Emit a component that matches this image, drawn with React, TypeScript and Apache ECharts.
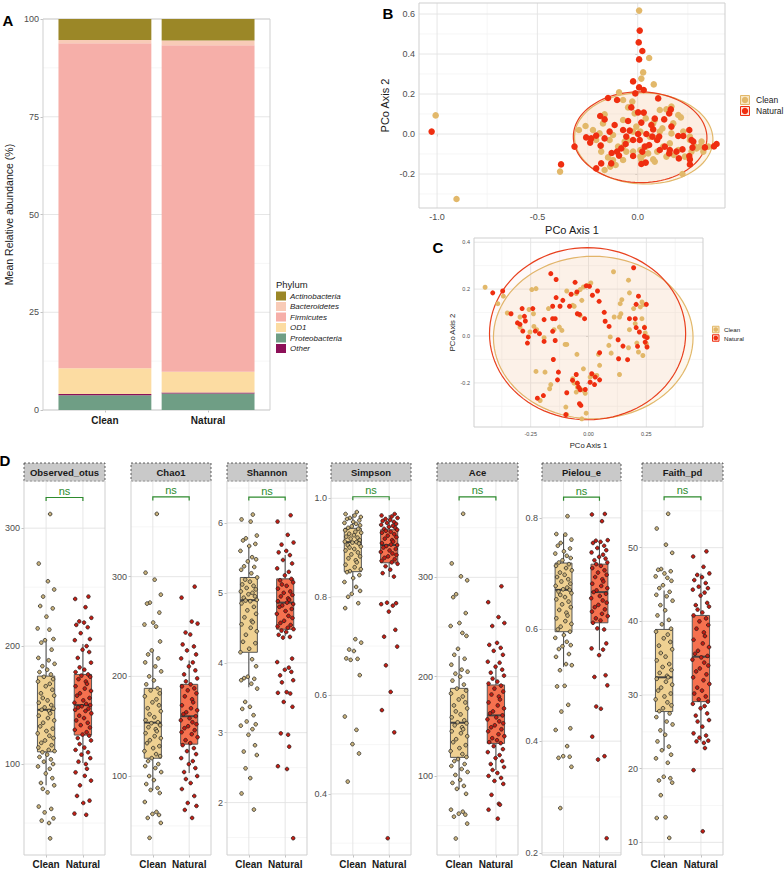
import React, { useEffect, useRef } from 'react';
import * as echarts from 'echarts';

const FONT = '"Liberation Sans", Arial, Helvetica, sans-serif';

// ---------------- Panel A: mean relative abundance ----------------
const GROUPS = ['Clean', 'Natural'];
const PHYLA = ['Actinobacteria', 'Bacteroidetes', 'Firmicutes', 'OD1', 'Proteobacteria', 'Other'];
const ACTINOBACTERIA = [5.4, 5.5];
const BACTEROIDETES = [0.8, 1.2];
const FIRMICUTES = [83.1, 83.5];
const OD1 = [6.6, 5.3];
const PROTEOBACTERIA = [3.8, 4.2];
const OTHER = [0.3, 0.3];
const A_TICKS = [0, 25, 50, 75, 100];
const A_MINOR = [12.5, 37.5, 62.5, 87.5];
const PHYLUM_COLORS: Record<string, string> = {
  Actinobacteria: '#9B8727',
  Bacteroidetes: '#F8CBB7',
  Firmicutes: '#F6AFA9',
  OD1: '#FCDCA2',
  Proteobacteria: '#6F9E85',
  Other: '#8C1058',
};
// stacking order bottom -> top
const A_STACK: [string, number[]][] = [
  ['Proteobacteria', PROTEOBACTERIA],
  ['Other', OTHER],
  ['OD1', OD1],
  ['Firmicutes', FIRMICUTES],
  ['Bacteroidetes', BACTEROIDETES],
  ['Actinobacteria', ACTINOBACTERIA],
];

// ---------------- Panel B: PCoA (unweighted) ----------------
const B_CLEAN = [
  [0.007, 0.617], [0.057, 0.38], [0.027, 0.308], [0.018, 0.277], [0.08, 0.248], [-1.007, 0.093], [-0.903, -0.325], [-0.387, -0.188],
  [-0.093, 0.208], [-0.073, 0.17], [-0.048, 0.133], [-0.027, 0.162], [0.143, 0.123], [0.168, 0.137], [0.215, 0.083], [-0.165, 0.098],
  [-0.293, 0.02], [-0.26, 0.04], [-0.19, 0.003], [-0.183, -0.058], [-0.123, -0.005], [-0.073, 0.07], [-0.007, 0.037], [0.077, 0.053],
  [0.11, 0.012], [0.123, 0.028], [0.177, 0.053], [0.26, -0.03], [0.285, -0.063], [0.31, -0.063], [0.327, -0.088], [0.268, -0.088],
  [0.223, -0.2], [0.18, -0.105], [0.143, -0.113], [0.085, -0.138], [0.077, -0.127], [0.027, -0.105], [0.013, -0.113], [-0.023, -0.088],
  [-0.073, -0.13], [-0.11, -0.155], [-0.137, -0.163], [-0.165, -0.18], [-0.148, -0.117], [-0.207, -0.03], [-0.223, 0.02], [-0.14, -0.03],
  [-0.098, -0.063], [-0.048, -0.03], [0.043, -0.063], [0.06, -0.013], [0.127, -0.063], [0.16, -0.047], [0.202, -0.08], [0.235, -0.113],
  [0.26, -0.013], [0.293, -0.072], [0.352, -0.063], [0.318, -0.038], [0.11, 0.12], [0.085, 0.07], [-0.015, 0.103], [-0.023, 0.012],
  [0.013, 0.012], [0.04, 0.078], [-0.173, 0.053], [-0.065, -0.038], [-0.057, -0.088], [0.013, -0.08], [0.052, -0.097], [0.097, -0.088],
  [0.168, 0.003], [0.227, 0.012], [0.202, 0.095], [-0.073, -0.063], [-0.182, -0.088], [-0.123, -0.13], [0.018, -0.13], [0.093, -0.022],
];
const B_NATURAL = [
  [0.01, 0.517], [0.005, 0.458], [0.023, 0.415], [0.007, 0.373], [-0.023, 0.263], [0.007, 0.233], [0.03, 0.22], [-0.012, 0.203],
  [-1.027, 0.012], [-0.382, -0.152], [-0.315, -0.063], [-0.148, 0.18], [-0.103, 0.17], [0.102, 0.178], [-0.032, 0.133], [0.002, 0.108],
  [0.03, 0.107], [0.085, 0.077], [0.165, 0.123], [0.157, 0.103], [0.132, 0.073], [-0.187, 0.09], [-0.165, 0.073], [-0.115, 0.045],
  [-0.048, 0.065], [0.018, 0.057], [-0.04, 0.017], [0.002, 0.0], [0.043, 0.0], [0.077, 0.023], [0.107, -0.013], [0.168, 0.037],
  [0.202, -0.01], [0.227, -0.01], [0.257, 0.02], [0.268, -0.03], [0.277, -0.038], [0.393, -0.05], [0.38, -0.062], [0.335, -0.067],
  [0.273, -0.068], [0.257, -0.11], [0.26, -0.127], [0.26, -0.152], [0.193, -0.088], [0.157, -0.097], [0.135, -0.063], [0.097, -0.03],
  [0.057, -0.055], [0.035, -0.063], [0.023, -0.088], [0.04, -0.143], [0.018, -0.15], [-0.023, -0.11], [-0.06, -0.05], [-0.082, -0.072],
  [-0.103, -0.088], [-0.093, -0.108], [-0.13, -0.095], [-0.165, -0.022], [-0.207, -0.008], [-0.232, -0.022], [-0.257, -0.017], [-0.237, -0.043],
  [-0.185, -0.058], [-0.207, -0.172], [-0.182, -0.147], [-0.132, -0.147], [-0.057, -0.013], [-0.023, -0.03], [0.073, -0.013], [0.11, -0.08],
  [0.16, -0.08], [0.223, -0.077], [0.205, -0.122], [-0.073, 0.02], [0.01, -0.03], [0.068, 0.045], [-0.14, 0.012],
];
// ellipse: centre x, centre y, semi-axis x, semi-axis y, rotation (rad)
const B_ELLIPSE_CLEAN = [0.03, -0.022, 0.345, 0.228, -0.03];
const B_ELLIPSE_NATURAL = [0.012, -0.016, 0.333, 0.227, -0.015];
const B_XTICKS = [-1, -0.5, 0];
const B_XMINOR = [-0.75, -0.25, 0.25];
const B_YTICKS = [-0.2, 0, 0.2, 0.4, 0.6];
const B_YMINOR = [-0.3, -0.1, 0.1, 0.3, 0.5];

// ---------------- Panel C: PCoA (weighted) ----------------
const C_CLEAN = [
  [-0.447, 0.208], [-0.392, 0.138], [-0.368, 0.17], [-0.351, 0.098], [-0.245, 0.198], [-0.227, 0.202], [-0.257, 0.113], [-0.238, 0.095],
  [-0.236, 0.041], [-0.253, 0.017], [-0.224, 0.027], [-0.192, -0.007], [-0.173, 0.117], [-0.149, 0.027], [-0.126, 0.038], [-0.115, 0.024],
  [-0.101, -0.036], [-0.094, 0.192], [-0.068, 0.131], [-0.062, 0.127], [-0.053, 0.181], [-0.036, 0.198], [-0.022, 0.209], [-0.029, 0.152],
  [0.0, 0.217], [0.01, 0.226], [-0.05, -0.078], [0.043, -0.078], [0.048, -0.125], [0.108, 0.274], [0.111, 0.081], [0.094, -0.004],
  [0.098, -0.073], [0.088, -0.04], [0.134, 0.081], [0.137, 0.138], [0.144, 0.155], [0.14, 0.095], [0.134, -0.164], [0.173, 0.238],
  [0.177, 0.184], [0.177, 0.027], [0.173, -0.05], [0.195, 0.117], [0.202, 0.053], [0.209, -0.03], [0.216, -0.068], [0.224, 0.124],
  [0.231, 0.074], [0.235, -0.083], [0.242, 0.038], [0.245, 0.013], [0.25, -0.033], [0.255, -0.004], [0.231, 0.145], [0.238, 0.134],
  [-0.188, -0.154], [-0.227, -0.151], [-0.163, -0.207], [-0.168, -0.225], [-0.209, -0.275], [-0.098, -0.303], [-0.094, -0.335], [-0.068, -0.182],
  [-0.062, -0.201], [-0.048, -0.218], [-0.053, -0.239], [-0.036, -0.225], [-0.022, -0.232], [-0.014, -0.244], [-0.029, -0.353], [-0.01, -0.329],
  [0.007, -0.175], [0.022, -0.168], [0.036, -0.168], [-0.022, -0.14], [-0.094, -0.036], [-0.296, 0.038], [-0.296, 0.081], [-0.036, 0.088],
];
const C_NATURAL = [
  [-0.414, 0.184], [-0.371, 0.192], [-0.335, 0.095], [-0.307, 0.056], [-0.296, 0.05], [-0.287, 0.117], [-0.277, 0.084], [-0.273, 0.064],
  [-0.284, 0.021], [-0.26, -0.004], [-0.264, -0.03], [-0.241, 0.117], [-0.23, 0.021], [-0.212, 0.01], [-0.192, 0.07], [-0.192, -0.023],
  [-0.163, 0.266], [-0.14, 0.241], [-0.155, 0.127], [-0.155, 0.074], [-0.144, 0.074], [-0.155, 0.02], [-0.144, -0.019], [-0.152, -0.1],
  [-0.14, 0.164], [-0.123, 0.127], [-0.111, 0.152], [-0.082, 0.127], [-0.075, 0.178], [-0.058, 0.229], [-0.05, 0.188], [-0.048, 0.095],
  [-0.039, 0.092], [-0.017, 0.074], [-0.01, 0.214], [0.004, 0.212], [0.017, 0.174], [0.039, 0.192], [0.046, 0.148], [0.068, 0.101],
  [0.072, 0.063], [0.048, -0.071], [-0.13, -0.154], [-0.134, -0.187], [-0.221, -0.265], [-0.195, -0.254], [-0.094, -0.242], [-0.069, -0.189],
  [-0.053, -0.164], [-0.048, -0.201], [-0.043, -0.218], [-0.036, -0.229], [-0.014, -0.228], [-0.039, -0.289], [-0.033, -0.296], [-0.098, -0.335],
  [0.007, -0.197], [0.014, -0.161], [0.029, -0.175], [0.048, -0.187], [0.026, -0.207], [0.089, 0.041], [0.128, -0.016], [0.13, -0.097],
  [0.149, -0.043], [0.169, -0.101], [0.177, 0.074], [0.195, 0.291], [0.202, 0.074], [0.206, 0.036], [0.206, 0.135], [0.212, -0.044],
  [0.216, 0.17], [0.22, 0.017], [0.242, 0.036], [0.242, -0.001], [0.245, -0.026], [0.25, 0.135], [0.253, -0.007], [0.253, -0.047],
];
const C_ELLIPSE_CLEAN = [0.0205, -0.0065, 0.4315, 0.3465, 0];
const C_ELLIPSE_NATURAL = [-0.004, 0.01, 0.424, 0.367, 0];
const C_XTICKS = [-0.25, 0, 0.25];
const C_XMINOR = [-0.375, -0.125, 0.125, 0.375];
const C_YTICKS = [-0.2, 0, 0.2, 0.4];
const C_YMINOR = [-0.3, -0.1, 0.1, 0.3];

// ---------------- Panel D: alpha diversity ----------------
const METRICS = ['Observed_otus', 'Chao1', 'Shannon', 'Simpson', 'Ace', 'Pielou_e', 'Faith_pd'];

const OBS_CLEAN = [312, 270, 255, 248, 242, 234, 232, 225, 215, 214, 206, 205, 203, 197, 190, 188, 185, 183, 180, 178, 176, 174, 172, 170, 168, 166, 163, 160, 158, 156, 154, 152, 150, 148, 147, 146, 145, 143, 141, 139, 137, 135, 132, 130, 128, 126, 124, 122, 120, 118, 116, 114, 112, 111, 110, 108, 106, 104, 102, 100, 98, 96, 92, 88, 84, 82, 79, 76, 64, 62, 59, 54, 52, 50, 37];
const OBS_NATURAL = [242, 240, 233, 224, 221, 220, 218, 216, 211, 206, 205, 200, 197, 195, 190, 186, 182, 180, 178, 176, 175, 174, 172, 170, 168, 166, 164, 162, 160, 158, 156, 154, 152, 151, 150, 149, 148, 147, 146, 145, 143, 141, 139, 137, 135, 133, 131, 129, 127, 125, 124, 122, 120, 117, 114, 112, 110, 108, 105, 102, 100, 96, 93, 90, 86, 82, 73, 69, 67, 58, 57];
const CHAO1_CLEAN = [363, 304, 297, 282, 274, 273, 264, 254, 252, 250, 235, 226, 222, 218, 214, 210, 205, 200, 196, 192, 188, 186, 183, 180, 177, 174, 171, 168, 165, 162, 159, 156, 154, 153, 151, 149, 147, 145, 143, 140, 138, 136, 133, 130, 128, 125, 122, 120, 118, 115, 112, 110, 108, 104, 100, 96, 92, 88, 86, 83, 74, 64, 62, 61, 58, 53, 38];
const CHAO1_NATURAL = [290, 279, 255, 253, 244, 242, 232, 230, 226, 222, 218, 214, 210, 206, 202, 198, 195, 192, 190, 188, 186, 183, 180, 177, 174, 171, 168, 166, 164, 162, 160, 158, 156, 154, 152, 150, 148, 146, 144, 142, 139, 136, 133, 131, 128, 125, 122, 118, 115, 112, 108, 104, 100, 97, 93, 87, 80, 73, 70, 66, 58];
const SHANNON_CLEAN = [6.12, 6.05, 6.02, 5.82, 5.78, 5.75, 5.7, 5.67, 5.6, 5.51, 5.48, 5.45, 5.38, 5.37, 5.33, 5.28, 5.22, 5.19, 5.16, 5.12, 5.1, 5.07, 5.05, 5.02, 5.0, 4.98, 4.95, 4.93, 4.9, 4.89, 4.88, 4.85, 4.8, 4.75, 4.7, 4.65, 4.6, 4.58, 4.55, 4.5, 4.45, 4.4, 4.3, 4.28, 4.2, 4.15, 4.05, 3.95, 3.8, 3.78, 3.77, 3.75, 3.7, 3.63, 3.44, 3.37, 3.34, 3.25, 3.16, 3.12, 3.1, 3.05, 2.97, 2.82, 2.73, 2.68, 2.49, 2.35, 2.13, 1.9];
const SHANNON_NATURAL = [6.11, 6.02, 5.83, 5.72, 5.69, 5.6, 5.58, 5.54, 5.47, 5.42, 5.35, 5.3, 5.25, 5.2, 5.18, 5.15, 5.12, 5.1, 5.06, 5.02, 5.0, 4.97, 4.95, 4.92, 4.9, 4.88, 4.86, 4.84, 4.82, 4.8, 4.77, 4.74, 4.7, 4.67, 4.64, 4.6, 4.57, 4.54, 4.52, 4.5, 4.48, 4.46, 4.44, 4.4, 4.37, 4.36, 4.06, 4.01, 3.93, 3.9, 3.87, 3.82, 3.75, 3.72, 3.58, 3.57, 3.56, 3.44, 3.37, 2.99, 2.97, 2.8, 2.52, 2.48, 1.49];
const SIMPSON_CLEAN = [0.972, 0.968, 0.965, 0.962, 0.96, 0.958, 0.955, 0.952, 0.95, 0.948, 0.945, 0.943, 0.94, 0.938, 0.935, 0.932, 0.93, 0.928, 0.925, 0.922, 0.92, 0.918, 0.915, 0.912, 0.911, 0.91, 0.908, 0.905, 0.902, 0.9, 0.897, 0.894, 0.89, 0.886, 0.882, 0.878, 0.874, 0.87, 0.865, 0.86, 0.856, 0.852, 0.85, 0.844, 0.838, 0.83, 0.82, 0.812, 0.806, 0.8, 0.787, 0.777, 0.714, 0.707, 0.693, 0.69, 0.675, 0.674, 0.672, 0.641, 0.557, 0.53, 0.501, 0.482, 0.425];
const SIMPSON_NATURAL = [0.968, 0.965, 0.963, 0.96, 0.958, 0.956, 0.954, 0.952, 0.95, 0.948, 0.946, 0.944, 0.942, 0.94, 0.938, 0.936, 0.934, 0.932, 0.93, 0.927, 0.924, 0.921, 0.918, 0.915, 0.912, 0.909, 0.906, 0.905, 0.903, 0.9, 0.897, 0.894, 0.891, 0.888, 0.885, 0.882, 0.879, 0.876, 0.873, 0.87, 0.867, 0.862, 0.855, 0.848, 0.841, 0.788, 0.787, 0.785, 0.782, 0.77, 0.733, 0.719, 0.699, 0.661, 0.607, 0.57, 0.525, 0.31];
const ACE_CLEAN = [364, 314, 301, 297, 283, 280, 264, 254, 251, 244, 241, 228, 222, 218, 212, 207, 205, 203, 200, 196, 192, 188, 186, 183, 180, 177, 174, 171, 168, 165, 162, 159, 156, 154, 153, 151, 149, 147, 145, 143, 140, 137, 134, 131, 128, 125, 122, 119, 117, 115, 112, 110, 107, 104, 101, 96, 93, 90, 87, 82, 66, 64, 62, 61, 59, 52, 37];
const ACE_NATURAL = [291, 275, 260, 254, 251, 234, 232, 229, 226, 222, 215, 214, 210, 207, 204, 201, 198, 195, 193, 191, 188, 185, 182, 180, 177, 174, 171, 168, 165, 163, 161, 159, 157, 155, 153, 151, 149, 147, 145, 142, 140, 138, 136, 134, 133, 130, 127, 124, 121, 118, 115, 112, 109, 106, 103, 100, 98, 95, 92, 81, 72, 71, 66, 57];
const PIELOU_CLEAN = [0.803, 0.771, 0.77, 0.761, 0.755, 0.75, 0.745, 0.74, 0.736, 0.732, 0.728, 0.724, 0.72, 0.717, 0.714, 0.71, 0.706, 0.702, 0.698, 0.694, 0.69, 0.686, 0.682, 0.678, 0.675, 0.672, 0.671, 0.668, 0.665, 0.662, 0.658, 0.654, 0.65, 0.645, 0.64, 0.635, 0.63, 0.625, 0.62, 0.615, 0.61, 0.605, 0.6, 0.596, 0.59, 0.585, 0.578, 0.572, 0.57, 0.565, 0.556, 0.551, 0.538, 0.536, 0.527, 0.499, 0.498, 0.465, 0.453, 0.423, 0.42, 0.391, 0.373, 0.372, 0.37, 0.354, 0.28];
const PIELOU_NATURAL = [0.807, 0.806, 0.794, 0.76, 0.759, 0.757, 0.755, 0.75, 0.746, 0.742, 0.738, 0.734, 0.73, 0.727, 0.724, 0.72, 0.717, 0.714, 0.71, 0.706, 0.702, 0.698, 0.694, 0.69, 0.686, 0.682, 0.678, 0.674, 0.67, 0.667, 0.664, 0.66, 0.656, 0.652, 0.648, 0.644, 0.64, 0.636, 0.632, 0.628, 0.624, 0.62, 0.616, 0.612, 0.6, 0.602, 0.575, 0.566, 0.564, 0.554, 0.518, 0.515, 0.5, 0.462, 0.458, 0.408, 0.373, 0.367, 0.226];
const FAITH_CLEAN = [54.6, 52.6, 50.4, 49.3, 47.1, 47.0, 46.8, 46.5, 46.1, 45.9, 45.5, 44.9, 44.5, 44.0, 43.6, 43.4, 42.8, 42.2, 41.5, 40.8, 40.2, 39.6, 39.0, 38.6, 38.2, 37.7, 37.2, 36.7, 36.2, 35.7, 35.2, 34.7, 34.2, 33.8, 33.4, 33.0, 32.6, 32.4, 32.2, 31.8, 31.4, 31.0, 30.6, 30.2, 29.8, 29.4, 29.0, 28.6, 28.2, 27.8, 27.5, 27.0, 26.4, 26.0, 25.2, 24.6, 23.7, 23.0, 22.5, 21.9, 21.4, 20.8, 18.9, 18.7, 18.4, 18.1, 16.4, 13.4, 13.3, 10.6];
const FAITH_NATURAL = [49.5, 48.8, 47.4, 46.5, 46.3, 46.0, 45.6, 45.2, 44.7, 44.5, 44.3, 43.9, 43.5, 42.5, 42.2, 42.0, 41.6, 41.2, 40.8, 40.4, 40.0, 39.5, 39.0, 38.5, 38.0, 37.5, 37.0, 36.5, 36.0, 35.6, 35.3, 35.1, 34.8, 34.4, 34.0, 33.6, 33.2, 32.8, 32.4, 32.0, 31.5, 31.0, 30.6, 30.2, 29.8, 29.4, 29.1, 28.8, 28.5, 28.2, 27.5, 27.2, 26.6, 26.4, 25.7, 24.8, 24.5, 24.2, 23.8, 23.7, 23.5, 22.8, 19.8, 11.5];

// box statistics: [lower whisker, Q1, median, Q3, upper whisker] for Clean, Natural
const OBS_BOX = [[82, 110.4, 146, 174.6, 205], [101, 124.6, 150, 176, 201.7]];
const CHAO1_BOX = [[86, 117.9, 153.6, 188, 227], [103, 132, 160, 192, 216]];
const SHANNON_BOX = [[3.65, 4.15, 4.895, 5.22, 5.67], [4.38, 4.48, 4.86, 5.2, 5.54]];
const SIMPSON_BOX = [[0.81, 0.851, 0.911, 0.939, 0.968], [0.84, 0.869, 0.905, 0.936, 0.966]];
const ACE_BOX = [[86.6, 118.7, 153.6, 188.2, 220.7], [106, 132.8, 161, 191.6, 210]];
const PIELOU_BOX = [[0.533, 0.596, 0.671, 0.719, 0.771], [0.563, 0.612, 0.667, 0.717, 0.757]];
const FAITH_BOX = [[22.45, 27.75, 32.4, 38.9, 44.2], [23.7, 29.1, 35.2, 40.8, 46.5]];

// y tick labels per metric
const OBS_TICKS = [100, 200, 300];
const CHAO1_TICKS = [100, 200, 300];
const SHANNON_TICKS = [2, 3, 4, 5, 6];
const SIMPSON_TICKS = [0.4, 0.6, 0.8, 1.0];
const ACE_TICKS = [100, 200, 300];
const PIELOU_TICKS = [0.2, 0.4, 0.6, 0.8];
const FAITH_TICKS = [10, 20, 30, 40, 50];
const OBS_MINOR = [50, 150, 250];
const CHAO1_MINOR = [50, 150, 250, 350];
const SHANNON_MINOR = [1.5, 2.5, 3.5, 4.5, 5.5, 6.5];
const SIMPSON_MINOR = [0.3, 0.5, 0.7, 0.9];
const ACE_MINOR = [50, 150, 250, 350];
const PIELOU_MINOR = [0.3, 0.5, 0.7];
const FAITH_MINOR = [15, 25, 35, 45, 55];
// "ns" bracket height per metric (in data units)
const NS_LEVEL = [326, 380, 6.37, 1.003, 381, 0.837, 56.9];

// horizontal jitter offsets (category units)
const JITTER = [0.11, -0.2, 0.05, 0.22, -0.08, -0.16, 0.18, 0.01, -0.23, 0.09, 0.2, -0.03, -0.13, 0.15, -0.21, 0.07, 0.23, -0.1, 0.03, -0.18, 0.13, -0.06, 0.19, -0.22, 0.1, -0.01, 0.17, -0.14, 0.22, -0.09, 0.04, -0.2, 0.14, -0.04, 0.2, -0.12, 0.08];

// ---------------- layout (pixels) ----------------
const D_LEFT = [24, 131, 227, 331, 437, 542, 642];
const D_WIDTH = [81, 80, 80, 80, 81, 79, 81];
const D_TOP = 481;
const D_HEIGHT = 374;
const D_YRANGE = [[22.9, 340], [20.8, 396], [1.25, 6.6], [0.276, 1.035], [20.4, 397], [0.196, 0.866], [8.28, 59.05]];

const CLEAN_COLOR = '#E2B86A';
const NATURAL_COLOR = '#EF2E10';

function frameSeries(gi: number, xr: number[], yr: number[], xMaj: number[], xMin: number[], yMaj: number[], yMin: number[], z = 1) {
  return {
    type: 'custom',
    xAxisIndex: gi,
    yAxisIndex: gi,
    silent: true,
    z,
    clip: false,
    data: [[xr[0], yr[0]]],
    renderItem: (_p: any, api: any) => {
      const ch: any[] = [];
      const add = (a: number[], b: number[], minor: boolean) => {
        const p = api.coord(a);
        const q = api.coord(b);
        ch.push({
          type: 'line',
          shape: { x1: p[0], y1: p[1], x2: q[0], y2: q[1] },
          style: { stroke: minor ? '#f2f2f2' : '#e3e3e3', lineWidth: minor ? 0.7 : 0.9 },
        });
      };
      yMin.forEach((v) => add([xr[0], v], [xr[1], v], true));
      xMin.forEach((v) => add([v, yr[0]], [v, yr[1]], true));
      yMaj.forEach((v) => add([xr[0], v], [xr[1], v], false));
      xMaj.forEach((v) => add([v, yr[0]], [v, yr[1]], false));
      const a = api.coord([xr[0], yr[1]]);
      const b = api.coord([xr[1], yr[0]]);
      ch.push({
        type: 'rect',
        shape: { x: a[0], y: a[1], width: b[0] - a[0], height: b[1] - a[1] },
        style: { fill: 'none', stroke: '#cfcfcf', lineWidth: 1 },
      });
      return { type: 'group', children: ch };
    },
  };
}

function stackedBarSeries(gi: number) {
  // one item per (phylum, group): [x, bottom, top, phylumIndex]
  const items: number[][] = [];
  GROUPS.forEach((_g, gIdx) => {
    let base = 0;
    A_STACK.forEach(([name, vals]) => {
      items.push([gIdx + 1, base, base + vals[gIdx], PHYLA.indexOf(name)]);
      base += vals[gIdx];
    });
  });
  return {
    type: 'custom',
    xAxisIndex: gi,
    yAxisIndex: gi,
    silent: true,
    z: 2,
    clip: false,
    data: items,
    renderItem: (_p: any, api: any) => {
      const x = api.value(0);
      const hw = 0.45;
      const tl = api.coord([x - hw, api.value(2)]);
      const br = api.coord([x + hw, api.value(1)]);
      return {
        type: 'rect',
        shape: { x: tl[0], y: tl[1], width: br[0] - tl[0], height: br[1] - tl[1] },
        style: { fill: PHYLUM_COLORS[PHYLA[api.value(3)]] },
      };
    },
  };
}

function ellipseSeries(gi: number, e: number[], fill: string, stroke: string) {
  return {
    type: 'custom',
    xAxisIndex: gi,
    yAxisIndex: gi,
    silent: true,
    z: 2,
    clip: false,
    data: [e],
    renderItem: (_p: any, api: any) => {
      const cx = api.value(0), cy = api.value(1), rx = api.value(2), ry = api.value(3), ang = api.value(4);
      const pts: number[][] = [];
      for (let i = 0; i < 96; i++) {
        const t = (i / 96) * Math.PI * 2;
        const x = rx * Math.cos(t);
        const y = ry * Math.sin(t);
        pts.push(api.coord([cx + x * Math.cos(ang) - y * Math.sin(ang), cy + x * Math.sin(ang) + y * Math.cos(ang)]));
      }
      return { type: 'polygon', shape: { points: pts }, style: { fill, stroke, lineWidth: 1.2 } };
    },
  };
}

function boxSeries(gi: number, stats: number[][]) {
  const fills = ['#EFD192', '#F6714F'];
  return {
    type: 'custom',
    xAxisIndex: gi,
    yAxisIndex: gi,
    silent: true,
    z: 2,
    clip: false,
    data: stats.map((s, i) => [i + 1, ...s]),
    renderItem: (p: any, api: any) => {
      const x = api.value(0);
      const lo = api.value(1), q1 = api.value(2), med = api.value(3), q3 = api.value(4), hi = api.value(5);
      const hw = 0.235;
      const tl = api.coord([x - hw, q3]);
      const br = api.coord([x + hw, q1]);
      const ml = api.coord([x - hw, med]);
      const mr = api.coord([x + hw, med]);
      const ph = api.coord([x, hi]);
      const p3 = api.coord([x, q3]);
      const p1 = api.coord([x, q1]);
      const pl = api.coord([x, lo]);
      const st = { stroke: '#555555', lineWidth: 1.1 };
      return {
        type: 'group',
        children: [
          { type: 'line', shape: { x1: ph[0], y1: ph[1], x2: p3[0], y2: p3[1] }, style: st },
          { type: 'line', shape: { x1: p1[0], y1: p1[1], x2: pl[0], y2: pl[1] }, style: st },
          { type: 'rect', shape: { x: tl[0], y: tl[1], width: br[0] - tl[0], height: br[1] - tl[1] }, style: { fill: fills[p.dataIndex], stroke: '#555555', lineWidth: 1 } },
          { type: 'line', shape: { x1: ml[0], y1: ml[1], x2: mr[0], y2: mr[1] }, style: { stroke: '#444444', lineWidth: 2 } },
        ],
      };
    },
  };
}

function bracketSeries(gi: number, level: number) {
  return {
    type: 'custom',
    xAxisIndex: gi,
    yAxisIndex: gi,
    silent: true,
    z: 4,
    clip: false,
    data: [[1, level, 2]],
    renderItem: (_p: any, api: any) => {
      const a = api.coord([api.value(0), api.value(1)]);
      const b = api.coord([api.value(2), api.value(1)]);
      return {
        type: 'group',
        children: [
          {
            type: 'polyline',
            shape: { points: [[a[0], a[1] + 3.5], [a[0], a[1]], [b[0], b[1]], [b[0], b[1] + 3.5]] },
            style: { stroke: '#2E8B2E', lineWidth: 1.2, fill: 'none' },
          },
          {
            type: 'text',
            x: (a[0] + b[0]) / 2,
            y: a[1] - 1,
            style: { text: 'ns', fill: '#2E8B2E', fontSize: 11, fontFamily: FONT, align: 'center', verticalAlign: 'bottom' },
          },
        ],
      };
    },
  };
}

function jittered(values: number[], x: number, offset: number) {
  return values.map((v, i) => [x + JITTER[(i + offset) % JITTER.length], v]);
}

function fmt(d: number) {
  return (v: number) => (Math.abs(v) < 1e-9 ? 0 : v).toFixed(d);
}

function valueAxis(gi: number, min: number, max: number, ticks: number[], formatter: any, fontSize: number, extra: any = {}) {
  return {
    type: 'value',
    gridIndex: gi,
    min,
    max,
    axisLine: { show: false },
    splitLine: { show: false },
    axisTick: { show: true, customValues: ticks, length: 2.5, lineStyle: { color: '#b3b3b3', width: 0.8 } },
    axisLabel: { customValues: ticks, formatter, color: '#4d4d4d', fontSize, fontFamily: FONT, margin: 4 },
    ...extra,
  };
}

function buildOption() {
  const grids: any[] = [];
  const xAxes: any[] = [];
  const yAxes: any[] = [];
  const series: any[] = [];

  // ---- A ----
  grids.push({ left: 43, top: 19, width: 227, height: 391 });
  xAxes.push(
    valueAxis(0, 0.4, 2.6, [1, 2], null, 10, {
      axisLabel: { customValues: [1, 2], formatter: (v: number) => GROUPS[Math.round(v) - 1] || '', color: '#1a1a1a', fontWeight: 'bold', fontSize: 10, fontFamily: FONT, margin: 5 },
    })
  );
  yAxes.push(
    valueAxis(0, 0, 100, A_TICKS, (v: number) => String(v), 9, {
      name: 'Mean Relative abundance (%)',
      nameLocation: 'middle',
      nameGap: 29,
      nameTextStyle: { fontSize: 10.5, color: '#1a1a1a', fontFamily: FONT },
    })
  );
  series.push(frameSeries(0, [0.4, 2.6], [0, 100], [], [], A_TICKS, A_MINOR));
  series.push(stackedBarSeries(0));

  // ---- B ----
  grids.push({ left: 419, top: 3, width: 306, height: 205 });
  xAxes.push(
    valueAxis(1, -1.09, 0.435, B_XTICKS, fmt(1), 9, {
      name: 'PCo Axis 1', nameLocation: 'middle', nameGap: 16,
      nameTextStyle: { fontSize: 11, color: '#1a1a1a', fontFamily: FONT },
    })
  );
  yAxes.push(
    valueAxis(1, -0.37, 0.655, B_YTICKS, fmt(1), 9, {
      name: 'PCo Axis 2', nameLocation: 'middle', nameGap: 29,
      nameTextStyle: { fontSize: 11, color: '#1a1a1a', fontFamily: FONT },
    })
  );
  series.push(frameSeries(1, [-1.09, 0.435], [-0.37, 0.655], B_XTICKS, B_XMINOR, B_YTICKS, B_YMINOR));
  series.push(ellipseSeries(1, B_ELLIPSE_CLEAN, 'rgba(243,210,165,0.26)', CLEAN_COLOR));
  series.push(ellipseSeries(1, B_ELLIPSE_NATURAL, 'rgba(240,80,50,0.03)', '#E8401E'));
  series.push({ type: 'scatter', xAxisIndex: 1, yAxisIndex: 1, silent: true, z: 3, clip: false, symbolSize: 6.5, itemStyle: { color: CLEAN_COLOR, opacity: 1 }, data: B_CLEAN });
  series.push({ type: 'scatter', xAxisIndex: 1, yAxisIndex: 1, silent: true, z: 3, clip: false, symbolSize: 6.5, itemStyle: { color: NATURAL_COLOR, opacity: 1 }, data: B_NATURAL });

  // ---- C ----
  grids.push({ left: 474, top: 238, width: 229, height: 189 });
  xAxes.push(
    valueAxis(2, -0.495, 0.495, C_XTICKS, fmt(2), 5.5, {
      name: 'PCo Axis 1', nameLocation: 'middle', nameGap: 14,
      nameTextStyle: { fontSize: 7.7, color: '#1a1a1a', fontFamily: FONT },
    })
  );
  yAxes.push(
    valueAxis(2, -0.388, 0.418, C_YTICKS, fmt(1), 5.5, {
      name: 'PCo Axis 2', nameLocation: 'middle', nameGap: 18,
      nameTextStyle: { fontSize: 7.7, color: '#1a1a1a', fontFamily: FONT },
    })
  );
  series.push(frameSeries(2, [-0.495, 0.495], [-0.388, 0.418], C_XTICKS, C_XMINOR, C_YTICKS, C_YMINOR));
  series.push(ellipseSeries(2, C_ELLIPSE_CLEAN, 'rgba(246,218,175,0.22)', CLEAN_COLOR));
  series.push(ellipseSeries(2, C_ELLIPSE_NATURAL, 'rgba(240,90,100,0.035)', '#E8401E'));
  series.push({ type: 'scatter', xAxisIndex: 2, yAxisIndex: 2, silent: true, z: 3, clip: false, symbolSize: 5, itemStyle: { color: CLEAN_COLOR, opacity: 1 }, data: C_CLEAN });
  series.push({ type: 'scatter', xAxisIndex: 2, yAxisIndex: 2, silent: true, z: 3, clip: false, symbolSize: 5, itemStyle: { color: NATURAL_COLOR, opacity: 1 }, data: C_NATURAL });

  // ---- D ----
  const dClean = [OBS_CLEAN, CHAO1_CLEAN, SHANNON_CLEAN, SIMPSON_CLEAN, ACE_CLEAN, PIELOU_CLEAN, FAITH_CLEAN];
  const dNatural = [OBS_NATURAL, CHAO1_NATURAL, SHANNON_NATURAL, SIMPSON_NATURAL, ACE_NATURAL, PIELOU_NATURAL, FAITH_NATURAL];
  const dBox = [OBS_BOX, CHAO1_BOX, SHANNON_BOX, SIMPSON_BOX, ACE_BOX, PIELOU_BOX, FAITH_BOX];
  const dTicks = [OBS_TICKS, CHAO1_TICKS, SHANNON_TICKS, SIMPSON_TICKS, ACE_TICKS, PIELOU_TICKS, FAITH_TICKS];
  const dMinor = [OBS_MINOR, CHAO1_MINOR, SHANNON_MINOR, SIMPSON_MINOR, ACE_MINOR, PIELOU_MINOR, FAITH_MINOR];
  const dFmt = [fmt(0), fmt(0), fmt(0), fmt(1), fmt(0), fmt(1), fmt(0)];

  METRICS.forEach((_m, i) => {
    const gi = 3 + i;
    const yr = D_YRANGE[i];
    grids.push({ left: D_LEFT[i], top: D_TOP, width: D_WIDTH[i], height: D_HEIGHT });
    xAxes.push(
      valueAxis(gi, 0.4, 2.6, [1, 2], null, 10, {
        axisLabel: { customValues: [1, 2], formatter: (v: number) => GROUPS[Math.round(v) - 1] || '', color: '#1a1a1a', fontWeight: 'bold', fontSize: 10, fontFamily: FONT, margin: 4 },
      })
    );
    yAxes.push(valueAxis(gi, yr[0], yr[1], dTicks[i], dFmt[i], 9));
    series.push(frameSeries(gi, [0.4, 2.6], yr, [1, 2], [], dTicks[i], dMinor[i]));
    series.push(boxSeries(gi, dBox[i]));
    series.push({
      type: 'scatter', xAxisIndex: gi, yAxisIndex: gi, silent: true, z: 3, clip: false, symbolSize: 3.7,
      itemStyle: { color: '#C9B27C', borderColor: '#1a1a1a', borderWidth: 0.7, opacity: 1 },
      data: jittered(dClean[i], 1, 0),
    });
    series.push({
      type: 'scatter', xAxisIndex: gi, yAxisIndex: gi, silent: true, z: 3, clip: false, symbolSize: 3.7,
      itemStyle: { color: '#C41E14', borderColor: '#1a1a1a', borderWidth: 0.7, opacity: 1 },
      data: jittered(dNatural[i], 2, 13),
    });
    series.push(bracketSeries(gi, NS_LEVEL[i]));
  });

  // ---- graphic annotations ----
  const g: any[] = [];
  const label = (t: string, x: number, y: number) =>
    g.push({ type: 'text', x, y, style: { text: t, fontSize: 15, fontWeight: 'bold', fontFamily: FONT, fill: '#000', align: 'center', verticalAlign: 'middle' } });
  label('A', 8, 20);
  label('B', 388, 13);
  label('C', 438, 247);
  label('D', 5, 460);

  // legend A
  g.push({ type: 'text', x: 276, y: 284, style: { text: 'Phylum', fontSize: 9.5, fontFamily: FONT, fill: '#1a1a1a', align: 'left', verticalAlign: 'middle' } });
  PHYLA.forEach((p, i) => {
    const cy = 296 + i * 10.5;
    g.push({ type: 'rect', shape: { x: 276, y: cy - 4.5, width: 10, height: 9 }, style: { fill: PHYLUM_COLORS[p] } });
    g.push({ type: 'text', x: 290, y: cy, style: { text: p, fontSize: 8, fontStyle: 'italic', fontFamily: FONT, fill: '#1a1a1a', align: 'left', verticalAlign: 'middle' } });
  });

  // legends B and C
  const grpLegend = (x: number, y0: number, dy: number, size: number, r: number, fs: number, tx: number) => {
    [['Clean', CLEAN_COLOR, '#F8E6C4'], ['Natural', NATURAL_COLOR, '#FBE0D6']].forEach(([t, c, f], i) => {
      const cy = y0 + i * dy;
      g.push({ type: 'rect', shape: { x, y: cy - size / 2, width: size, height: size }, style: { fill: f, stroke: c, lineWidth: 1 } });
      g.push({ type: 'circle', shape: { cx: x + size / 2, cy, r }, style: { fill: c } });
      g.push({ type: 'text', x: tx, y: cy, style: { text: t, fontSize: fs, fontFamily: FONT, fill: '#1a1a1a', align: 'left', verticalAlign: 'middle' } });
    });
  };
  grpLegend(740.5, 100, 11, 9, 3.2, 8.5, 756);
  grpLegend(712.5, 329.5, 8.5, 6.5, 2.3, 6.2, 724);

  // strips D
  METRICS.forEach((m, i) => {
    g.push({
      type: 'rect',
      shape: { x: D_LEFT[i], y: 463, width: D_WIDTH[i], height: 18 },
      style: { fill: '#C9C9C9', stroke: '#3a3a3a', lineWidth: 0.8, lineDash: [2, 2] },
    });
    g.push({
      type: 'text',
      x: D_LEFT[i] + D_WIDTH[i] / 2,
      y: 472,
      style: { text: m, fontSize: 9.5, fontWeight: 'bold', fontFamily: FONT, fill: '#1a1a1a', align: 'center', verticalAlign: 'middle' },
    });
  });

  return {
    animation: false,
    backgroundColor: '#ffffff',
    textStyle: { fontFamily: FONT },
    grid: grids,
    xAxis: xAxes,
    yAxis: yAxes,
    series,
    graphic: { elements: g },
  };
}

export default function App() {
  const ref = useRef<HTMLDivElement>(null);
  useEffect(() => {
    if (!ref.current) return;
    const chart = echarts.init(ref.current, undefined, { renderer: 'svg' });
    chart.setOption(buildOption() as any);
    return () => chart.dispose();
  }, []);
  return <div ref={ref} style={{ position: 'absolute', left: 0, top: 0, width: 784, height: 870 }} />;
}
